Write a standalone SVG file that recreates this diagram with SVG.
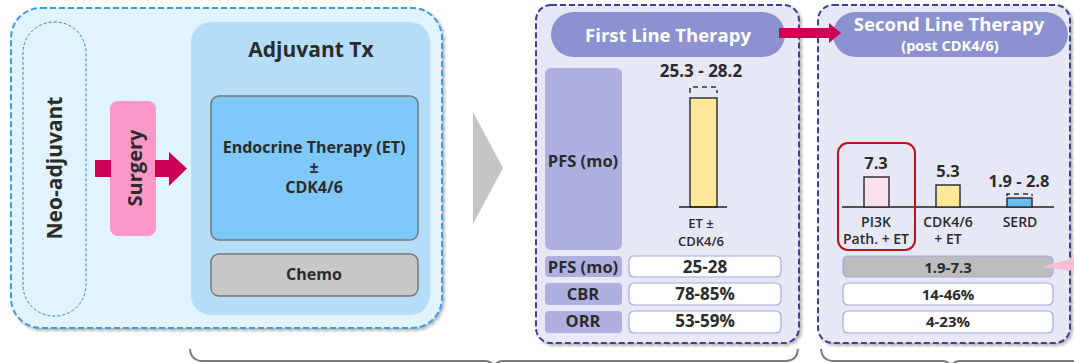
<svg xmlns="http://www.w3.org/2000/svg" width="1074" height="363" viewBox="0 0 1074 363">
<defs>
<filter id="sh" x="-5%" y="-5%" width="112%" height="112%">
<feDropShadow dx="2" dy="2" stdDeviation="1.5" flood-color="#000" flood-opacity="0.3"/>
</filter>
</defs>
<style>
text{font-family:"Open Sans","Noto Sans","Liberation Sans",sans-serif;font-weight:700;fill:#2b2b2b;text-anchor:middle}
.w{fill:#ffffff}
.sb{font-weight:600}
.lab{fill:#aeb1e0}
.val{fill:#ffffff;stroke:#a4a8dc;stroke-width:1.2}
.bar{stroke:#333;stroke-width:1.5}
.axis{stroke:#222;stroke-width:1.5}
.dash{fill:none;stroke:#333;stroke-width:1.5;stroke-dasharray:5 4}
.panel{fill:#e7e8f6;stroke:#3b3f99;stroke-width:2;stroke-dasharray:6 3}
.pill{fill:#8c92cf}
.mag{fill:#cc0055}
.brace{fill:none;stroke:#7a7a7a;stroke-width:2}
</style>

<g id="early">
<rect x="11" y="8" width="431" height="320" rx="30" fill="#e1f3fc" stroke="#3b9ee0" stroke-width="2" stroke-dasharray="6 3" filter="url(#sh)"/>
</g>
<g id="neoadjuvant">
<rect x="23" y="22" width="63" height="294" rx="31" fill="none" stroke="#3a7fbf" stroke-width="1" stroke-dasharray="3 2"/>
<text transform="translate(62,168) rotate(-90)" font-size="21">Neo-adjuvant</text>
</g>
<g id="adjuvant">
<rect x="191" y="22" width="239" height="293" rx="20" fill="#b5ddf8"/>
<text x="311" y="57" font-size="21">Adjuvant Tx</text>
</g>
<g id="endocrine">
<rect x="211" y="96" width="207" height="144" rx="8" fill="#7ec8fa" stroke="#777" stroke-width="1.5"/>
<text x="314" y="153" font-size="16">Endocrine Therapy (ET)</text>
<text x="314" y="173" font-size="16">±</text>
<text x="314" y="193" font-size="16">CDK4/6</text>
</g>
<g id="chemo">
<rect x="211" y="254" width="207" height="42" rx="8" fill="#c8c8c8" stroke="#777" stroke-width="1.5"/>
<text x="314" y="280" font-size="16">Chemo</text>
</g>
<g id="surgery">
<rect x="110" y="101" width="46" height="135" rx="8" fill="#fb98c8"/>
<text transform="translate(142,168) rotate(-90)" font-size="20">Surgery</text>
</g>

<g id="first-line">
<rect class="panel" x="536" y="5" width="263" height="338" rx="15" filter="url(#sh)"/>
<rect class="pill" x="551" y="12" width="234" height="45" rx="22.5"/>
<text class="w" x="668" y="42" font-size="18.5">First Line Therapy</text>
<rect class="lab" x="545" y="68" width="77" height="182" rx="6"/>
<text x="583" y="167" font-size="16.5">PFS (mo)</text>
<text x="701" y="77" font-size="17">25.3 - 28.2</text>
<path class="dash" d="M690,93 V87 H717 V93"/>
<rect class="bar" x="690" y="98" width="27" height="109" fill="#fde89a"/>
<line class="axis" x1="679" y1="207" x2="727" y2="207"/>
<text class="sb" x="701" y="228" font-size="13">ET ±</text>
<text class="sb" x="701" y="246" font-size="13">CDK4/6</text>
<rect class="lab" x="545" y="256" width="77" height="21" rx="4"/>
<rect class="val" x="629" y="256" width="152" height="21" rx="5"/>
<text x="583" y="273" font-size="16.5">PFS (mo)</text>
<text x="705" y="273" font-size="17">25-28</text>
<rect class="lab" x="545" y="283" width="77" height="22" rx="4"/>
<rect class="val" x="629" y="283" width="152" height="22" rx="5"/>
<text x="583" y="300" font-size="16.5">CBR</text>
<text x="705" y="300" font-size="17">78-85%</text>
<rect class="lab" x="545" y="311" width="77" height="22" rx="4"/>
<rect class="val" x="629" y="311" width="152" height="22" rx="5"/>
<text x="583" y="327" font-size="16.5">ORR</text>
<text x="705" y="327" font-size="17">53-59%</text>
</g>

<g id="second-line">
<rect class="panel" x="818" y="5" width="252" height="338" rx="15" filter="url(#sh)"/>
<rect class="pill" x="833" y="12" width="235" height="45" rx="22.5"/>
<text class="w" x="949" y="31" font-size="18.5">Second Line Therapy</text>
<text class="w" x="950" y="51" font-size="14.5">(post CDK4/6)</text>
<line class="axis" x1="842" y1="207" x2="1054" y2="207"/>
<text x="876" y="169" font-size="16.5">7.3</text>
<rect class="bar" x="864" y="177" width="25" height="30" fill="#fde0ee"/>
<text x="948" y="177" font-size="16.5">5.3</text>
<rect class="bar" x="936" y="185" width="24" height="22" fill="#fde89a"/>
<text x="1019" y="187" font-size="16.5">1.9 - 2.8</text>
<path class="dash" d="M1007,196 V194 H1032 V196" stroke-dasharray="4 3"/>
<rect class="bar" x="1007" y="198" width="25" height="9" fill="#6bbcf0"/>
<text class="sb" x="876" y="227" font-size="14">PI3K</text>
<text class="sb" x="876" y="244" font-size="14">Path. + ET</text>
<text class="sb" x="948" y="227" font-size="14">CDK4/6</text>
<text class="sb" x="948" y="244" font-size="14">+ ET</text>
<text class="sb" x="1020" y="227" font-size="14">SERD</text>
<rect x="838" y="143" width="77" height="107" rx="10" fill="none" stroke="#c0101a" stroke-width="2"/>
<rect x="843" y="256" width="210" height="21" rx="5" fill="#bdbdbd" stroke="#a4a8dc" stroke-width="1.2"/>
<text x="948" y="273" font-size="15">1.9-7.3</text>
<rect class="val" x="843" y="283" width="210" height="22" rx="5"/>
<text x="948" y="300" font-size="15">14-46%</text>
<rect class="val" x="843" y="311" width="210" height="22" rx="5"/>
<text x="948" y="327" font-size="15">4-23%</text>
</g>

<g id="connectors">
<rect class="mag" x="95" y="160" width="16" height="17"/>
<path class="mag" d="M155,160 H169 V152 L187,168.5 L169,186 V177 H155 Z"/>
<polygon points="473,112 503,168 473,224" fill="#c4c4c4"/>
<path class="mag" d="M779,28 H829 V23 L841,33 L829,43 V38 H779 Z"/>
<polygon points="1041,267 1074,258 1074,271" fill="#f7bcd6"/>
<path class="brace" d="M190,349 Q191,361 203,361 L485,361 Q492,361 494,368 Q496,361 503,361 L786,361 Q797,361 798,349"/>
<path class="brace" d="M821,349 Q822,361 834,361 L943,361 Q949,361 951,368 Q953,361 960,361 L1074,361"/>
</g>
</svg>
